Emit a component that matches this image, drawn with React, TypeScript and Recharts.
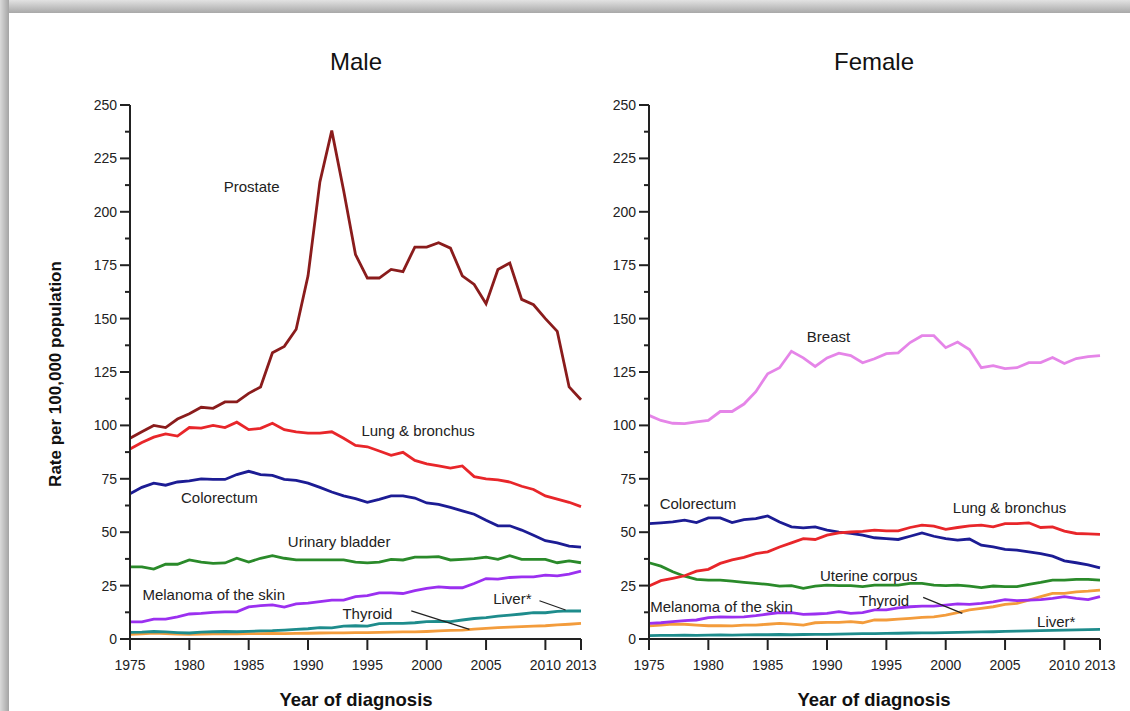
import React from "react";
import {
  LineChart,
  Line,
  XAxis,
  YAxis,
  ReferenceDot,
  ReferenceLine,
} from "recharts";

const years = Array.from({ length: 39 }, (_, i) => 1975 + i);

const xTicks = [1975, 1980, 1985, 1990, 1995, 2000, 2005, 2010, 2013];
const yTicks = Array.from({ length: 21 }, (_, i) => i * 12.5);

// Male
const maleProstate = [
  94, 97, 100, 99, 103, 105.5, 108.5, 108, 111, 111,
  115, 118, 134, 137, 145, 170, 214, 238, 210, 180,
  169, 169, 173, 172, 183.5, 183.5, 185.5, 183, 170, 166,
  157, 173, 176, 159, 156.5, 150, 144, 118, 112,
];
const maleLung = [
  89, 92, 94.5, 96, 95, 99, 98.7, 100, 99, 101.5,
  98, 98.6, 101, 98, 97, 96.4, 96.4, 97, 94, 90.6,
  90, 88, 86, 87.4, 83.6, 82, 81, 80, 81, 76,
  75, 74.5, 73.5, 71.5, 70, 67, 65.5, 64, 62,
];
const maleColorectum = [
  68, 71, 73, 72, 73.5, 74, 75, 74.7, 74.7, 77,
  78.5, 77, 76.6, 74.7, 74.3, 73, 71, 68.8, 67, 65.7,
  64, 65.4, 67, 67, 66, 63.7, 63, 61.6, 60, 58.4,
  55.6, 53, 53, 51, 48.6, 46, 45, 43.5, 43,
];
const maleBladder = [
  33.8, 33.8, 32.7, 35, 35, 37, 36, 35.4, 35.6, 37.8,
  36, 37.8, 39, 37.8, 37, 37, 37, 37, 37, 36,
  35.6, 36, 37.3, 37, 38.3, 38.3, 38.6, 37, 37.3, 37.6,
  38.3, 37.3, 39, 37.3, 37.3, 37.3, 35.7, 36.6, 35.7,
];
const maleMelanoma = [
  8, 8, 9.3, 9.3, 10.4, 11.7, 12, 12.5, 12.7, 12.7,
  15, 15.6, 16, 14.9, 16.4, 16.8, 17.5, 18.2, 18.2, 19.8,
  20.3, 21.6, 21.6, 21.3, 22.6, 23.7, 24.4, 24, 24, 26,
  28.3, 28, 28.8, 29.1, 29.1, 29.9, 29.6, 30.4, 31.8,
];
const maleLiver = [
  3.1, 3.2, 3.5, 3.3, 3.0, 2.8, 3.2, 3.4, 3.5, 3.4,
  3.6, 3.8, 3.9, 4.2, 4.5, 4.8, 5.3, 5.2, 6.0, 6.2,
  6.0, 7.2, 7.3, 7.3, 7.6, 8.1, 8.2, 8.1, 8.9, 9.6,
  10, 10.7, 11.2, 11.7, 12.3, 12.3, 12.9, 13.2, 13.1,
];
const maleThyroid = [
  2.2, 2.4, 2.8, 2.5, 2.3, 2.2, 2.3, 2.4, 2.4, 2.4,
  2.5, 2.5, 2.6, 2.5, 2.6, 2.7, 2.8, 2.9, 2.9, 3.0,
  3.0, 3.1, 3.2, 3.3, 3.3, 3.5, 3.8, 4.0, 4.2, 4.6,
  5.0, 5.3, 5.6, 5.8, 6.0, 6.2, 6.6, 6.9, 7.3,
];

// Female
const femaleBreast = [
  104.7, 102.3, 101, 100.8, 101.7, 102.3, 106.5, 106.5, 110, 115.8,
  124.2, 127, 134.7, 131.6, 127.6, 131.6, 133.8, 132.7, 129.3, 131.2,
  133.6, 134, 138.8, 142, 142, 136.4, 139, 135.5, 127, 128,
  126.6, 127, 129.4, 129.4, 131.8, 129, 131.3, 132.2, 132.7,
];
const femaleColorectum = [
  54, 54.4, 54.8, 55.6, 54.5, 56.7, 56.7, 54.5, 55.9, 56.4,
  57.6, 54.8, 52.5, 52, 52.5, 51, 50, 49.4, 48.6, 47.4,
  47, 46.6, 48.1, 49.7, 48.1, 47, 46.3, 46.8, 43.9, 43.1,
  42, 41.6, 40.8, 40, 38.8, 36.6, 35.7, 34.7, 33.3,
];
const femaleLung = [
  24.8, 27.3, 28.4, 29.6, 31.8, 32.6, 35.4, 37, 38.2, 40,
  40.8, 43.1, 45, 47, 46.6, 48.6, 49.7, 50.1, 50.4, 51,
  50.6, 50.6, 52.2, 53.3, 52.8, 51.3, 52.2, 53, 53.3, 52.5,
  54, 54, 54.4, 52.2, 52.5, 50.5, 49.4, 49.2, 49,
];
const femaleUterine = [
  35.7, 34.1, 31.5, 29.4, 27.9, 27.6, 27.6, 27.1, 26.5, 26,
  25.6, 24.8, 25, 23.7, 24.8, 25.2, 25, 25, 24.5, 25.2,
  25.2, 25.2, 26, 26, 25.2, 25, 25.2, 24.8, 24.1, 24.8,
  24.5, 24.5, 25.6, 26.5, 27.6, 27.6, 27.9, 27.9, 27.6,
];
const femaleMelanoma = [
  7.3, 7.6, 8.1, 8.6, 8.9, 10, 10.4, 10.2, 10.4, 10.9,
  11.7, 12.3, 12.3, 11.5, 11.7, 12, 12.8, 12, 12.3, 13.6,
  13.6, 14.6, 15.1, 15.4, 15.4, 15.9, 16.4, 16.2, 16.7, 17.4,
  18.4, 18, 18.2, 18.4, 19, 19.8, 19, 18.4, 19.8,
];
const femaleThyroid = [
  6.1, 6.5, 7, 6.9, 6.5, 6.2, 6.2, 6.1, 6.5, 6.5,
  6.9, 7.3, 7, 6.5, 7.6, 7.8, 7.8, 8.1, 7.6, 8.9,
  8.9, 9.3, 9.7, 10.1, 10.4, 11.2, 12.3, 13.6, 14.3, 15.1,
  16.2, 16.7, 18.2, 19.8, 21.4, 21.4, 22.1, 22.4, 22.9,
];
const femaleLiver = [
  1.6, 1.7, 1.7, 1.8, 1.7, 1.8, 1.9, 1.8, 1.9, 2.0,
  2.0, 2.1, 2.0, 2.1, 2.2, 2.2, 2.3, 2.4, 2.5, 2.5,
  2.6, 2.7, 2.8, 2.9, 2.9, 3.0, 3.1, 3.2, 3.3, 3.4,
  3.6, 3.7, 3.8, 3.9, 4.0, 4.2, 4.3, 4.4, 4.5,
];

const maleData = years.map((year, i) => ({
  year,
  prostate: maleProstate[i],
  lung: maleLung[i],
  colorectum: maleColorectum[i],
  bladder: maleBladder[i],
  melanoma: maleMelanoma[i],
  liver: maleLiver[i],
  thyroid: maleThyroid[i],
}));

const femaleData = years.map((year, i) => ({
  year,
  breast: femaleBreast[i],
  colorectum: femaleColorectum[i],
  lung: femaleLung[i],
  uterine: femaleUterine[i],
  melanoma: femaleMelanoma[i],
  thyroid: femaleThyroid[i],
  liver: femaleLiver[i],
}));

const maleSeries = [
  { key: "thyroid", color: "#f39c3c" },
  { key: "liver", color: "#1e8c8c" },
  { key: "melanoma", color: "#9b30f0" },
  { key: "bladder", color: "#2a8a2a" },
  { key: "colorectum", color: "#1c1c94" },
  { key: "lung", color: "#e8262a" },
  { key: "prostate", color: "#8a1c1c" },
];

const femaleSeries = [
  { key: "liver", color: "#1e8c8c" },
  { key: "thyroid", color: "#f39c3c" },
  { key: "melanoma", color: "#9b30f0" },
  { key: "uterine", color: "#2a8a2a" },
  { key: "colorectum", color: "#1c1c94" },
  { key: "lung", color: "#e8262a" },
  { key: "breast", color: "#e585e8" },
];

// annotation text anchored at (year, rate)
const maleLabels = [
  { text: "Prostate", x: 1982.9, y: 211.7 },
  { text: "Lung & bronchus", x: 1994.5, y: 97.7 },
  { text: "Colorectum", x: 1979.3, y: 66.4 },
  { text: "Urinary bladder", x: 1988.3, y: 45.8 },
  { text: "Melanoma of the skin", x: 1976.05, y: 21 },
  { text: "Thyroid", x: 1992.9, y: 12.1 },
  { text: "Liver*", x: 2005.6, y: 19 },
];
const maleLeaders = [
  [{ x: 1998.7, y: 13.2 }, { x: 2003.6, y: 4.5 }],
  [{ x: 2009.5, y: 17.9 }, { x: 2011.7, y: 13.6 }],
];

const femaleLabels = [
  { text: "Breast", x: 1988.3, y: 141.6 },
  { text: "Colorectum", x: 1975.9, y: 63.4 },
  { text: "Lung & bronchus", x: 2000.6, y: 61.5 },
  { text: "Uterine corpus", x: 1989.4, y: 29.9 },
  { text: "Melanoma of the skin", x: 1975.1, y: 15.1 },
  { text: "Thyroid", x: 1992.7, y: 18.2 },
  { text: "Liver*", x: 2007.7, y: 8.1 },
];
const femaleLeaders = [
  [{ x: 1998.1, y: 19.5 }, { x: 2001.4, y: 12 }],
];

const FONT = "'Liberation Sans', Arial, Helvetica, sans-serif";
const INK = "#222";

const YTick = (props: any) => {
  const { x, y, payload } = props;
  const major = payload.value % 25 === 0;
  return (
    <g>
      <line x1={x - (major ? 10 : 5)} x2={x} y1={y} y2={y} stroke={INK} strokeWidth={2} />
      {major && (
        <text
          x={x - 13}
          y={y}
          textAnchor="end"
          dominantBaseline="central"
          fontSize={14}
          fontFamily={FONT}
          fill={INK}
        >
          {payload.value}
        </text>
      )}
    </g>
  );
};

const XTick = (props: any) => {
  const { x, y, payload } = props;
  return (
    <g>
      <line x1={x} x2={x} y1={y} y2={y + 11} stroke={INK} strokeWidth={2} />
      <text
        x={x}
        y={y + 26}
        textAnchor="middle"
        dominantBaseline="central"
        fontSize={14}
        fontFamily={FONT}
        fill={INK}
      >
        {payload.value}
      </text>
    </g>
  );
};

function Panel({ data, series, labels, leaders }: any) {
  return (
    <LineChart
      width={600}
      height={711}
      data={data}
      margin={{ top: 105, right: 19, left: 70, bottom: 0 }}
    >
      <XAxis
        dataKey="year"
        type="number"
        domain={[1975, 2013]}
        ticks={xTicks}
        interval={0}
        height={72}
        tickSize={0}
        tickMargin={0}
        tick={<XTick />}
        axisLine={{ stroke: INK, strokeWidth: 2 }}
        tickLine={false}
      />
      <YAxis
        type="number"
        domain={[0, 250]}
        ticks={yTicks}
        interval={0}
        width={60}
        tickSize={0}
        tickMargin={0}
        tick={<YTick />}
        axisLine={{ stroke: INK, strokeWidth: 2 }}
        tickLine={false}
      />
      {series.map((s: any) => (
        <Line
          key={s.key}
          dataKey={s.key}
          stroke={s.color}
          strokeWidth={2.8}
          dot={false}
          type="linear"
          isAnimationActive={false}
        />
      ))}
      {leaders.map((seg: any, i: number) => (
        <ReferenceLine
          key={"l" + i}
          segment={seg}
          stroke={INK}
          strokeWidth={1.2}
          ifOverflow="visible"
        />
      ))}
      {labels.map((l: any) => (
        <ReferenceDot
          key={l.text}
          x={l.x}
          y={l.y}
          r={0}
          ifOverflow="visible"
          shape={(p: any) => (
            <text
              x={p.cx}
              y={p.cy}
              dominantBaseline="central"
              fontSize={15}
              fontFamily={FONT}
              fill={INK}
            >
              {l.text}
            </text>
          )}
        />
      ))}
    </LineChart>
  );
}

const textStyle: React.CSSProperties = {
  position: "absolute",
  fontFamily: FONT,
  color: "#111",
  whiteSpace: "nowrap",
  lineHeight: 1,
};

export default function App() {
  return (
    <div
      style={{
        position: "absolute",
        left: 0,
        top: 0,
        width: 1130,
        height: 711,
        background: "#fff",
        overflow: "hidden",
      }}
    >
      <div
        style={{
          position: "absolute",
          left: 0,
          top: 0,
          width: 1130,
          height: 13,
          background: "linear-gradient(to bottom, #e2e2e2, #a8a8a8)",
        }}
      />
      <div
        style={{
          position: "absolute",
          left: 0,
          top: 0,
          width: 9,
          height: 711,
          background: "linear-gradient(to right, #dadada, #a4a4a4)",
        }}
      />
      <div style={{ position: "absolute", left: 0, top: 0 }}>
        <Panel data={maleData} series={maleSeries} labels={maleLabels} leaders={maleLeaders} />
      </div>
      <div style={{ position: "absolute", left: 519, top: 0 }}>
        <Panel data={femaleData} series={femaleSeries} labels={femaleLabels} leaders={femaleLeaders} />
      </div>
      <div style={{ ...textStyle, left: 356, top: 62, fontSize: 24, transform: "translate(-50%, -50%)" }}>
        Male
      </div>
      <div style={{ ...textStyle, left: 874, top: 62, fontSize: 24, transform: "translate(-50%, -50%)" }}>
        Female
      </div>
      <div
        style={{
          ...textStyle,
          left: 55,
          top: 374,
          fontSize: 17,
          fontWeight: "bold",
          transform: "translate(-50%, -50%) rotate(-90deg)",
        }}
      >
        Rate per 100,000 population
      </div>
      <div style={{ ...textStyle, left: 356, top: 700, fontSize: 18.5, fontWeight: "bold", transform: "translate(-50%, -50%)" }}>
        Year of diagnosis
      </div>
      <div style={{ ...textStyle, left: 874, top: 700, fontSize: 18.5, fontWeight: "bold", transform: "translate(-50%, -50%)" }}>
        Year of diagnosis
      </div>
    </div>
  );
}
